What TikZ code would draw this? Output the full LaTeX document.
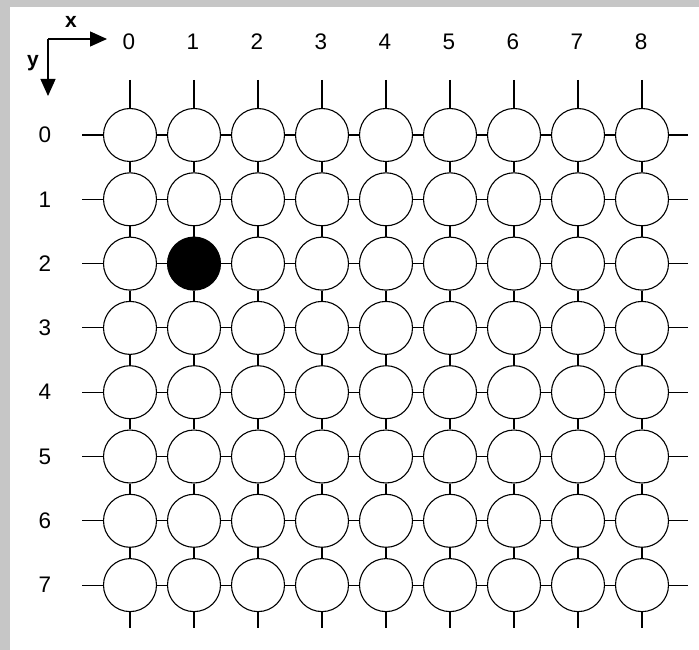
\documentclass[tikz,border=0pt]{standalone}
\usepackage{fontspec}
\setmainfont{Liberation Sans}
\usetikzlibrary{arrows.meta}
\definecolor{bggrey}{HTML}{C6C6C6}
\begin{document}
\begin{tikzpicture}[x=1pt,y=-1pt,
  cell/.style={circle,draw,line width=1.1pt,minimum size=53pt,inner sep=0pt},
  link/.style={line width=1.1pt},
  lbl/.style={font=\fontsize{22.5}{24}\selectfont,inner sep=0pt},
  axlbl/.style={font=\fontsize{21}{23}\selectfont\bfseries,inner sep=0pt},
  axis/.style={line width=1.3pt,-{Triangle[length=17pt,width=15pt]}}]
\fill[bggrey] (0,0) rectangle (699,650);
\fill[white] (10,7) rectangle (699,650);
\useasboundingbox (0,0) rectangle (699,650);
% cells
\foreach \i in {0,...,8}{
  \foreach \j in {0,...,7}{
    \def\fc{white}
    \ifnum\i=1 \ifnum\j=2 \def\fc{black}\fi\fi
    \node[cell,fill=\fc] (c\i-\j) at ({130+64*\i},{135+64.3*\j}) {};
  }
}
% horizontal links
\foreach \i [evaluate=\i as \n using int(\i+1)] in {0,...,7}{
  \foreach \j in {0,...,7}{
    \draw[link] (c\i-\j.east) -- (c\n-\j.west);
  }
}
% vertical links
\foreach \i in {0,...,8}{
  \foreach \j [evaluate=\j as \n using int(\j+1)] in {0,...,6}{
    \draw[link] (c\i-\j.south) -- (c\i-\n.north);
  }
}
% top/bottom stubs and column labels
\foreach \i in {0,...,8}{
  \coordinate (t\i) at ({130+64*\i},80);
  \coordinate (b\i) at ({130+64*\i},628);
  \draw[link] (t\i) -- (c\i-0.north);
  \draw[link] (c\i-7.south) -- (b\i);
  \node[lbl] (col\i) at ({129+64*\i},42) {\i};
}
% left/right stubs and row labels
\foreach \j in {0,...,7}{
  \coordinate (l\j) at (82,{135+64.3*\j});
  \coordinate (r\j) at (688,{135+64.3*\j});
  \draw[link] (l\j) -- (c0-\j.west);
  \draw[link] (c8-\j.east) -- (r\j);
  \node[lbl] (row\j) at (45,{135+64.3*\j}) {\j};
}
% axes
\coordinate (o) at (48,39);
\coordinate (xe) at (107,39);
\coordinate (ye) at (48,96);
\draw[axis] (o) -- (xe);
\draw[axis] (o) -- (ye);
\node[axlbl] (xl) at (71,22) {x};
\node[axlbl] (yl) at (33,63) {y};
\end{tikzpicture}
\end{document}
